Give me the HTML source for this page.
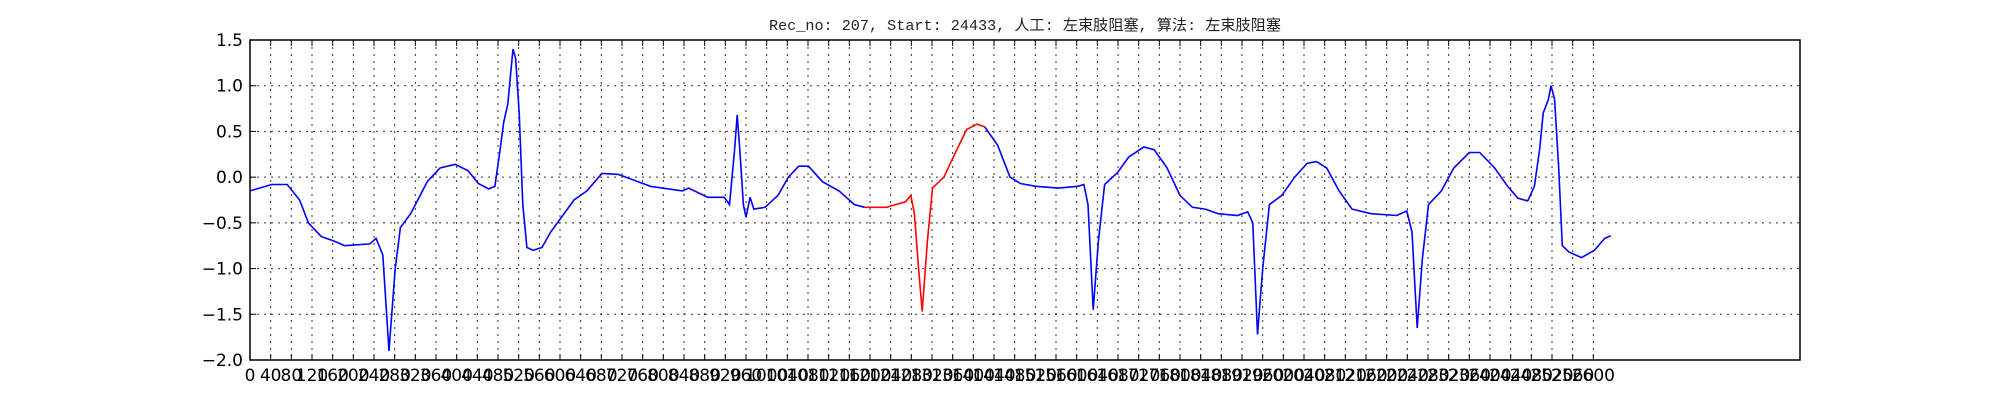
<!DOCTYPE html>
<html><head><meta charset="utf-8"><style>
html,body{margin:0;padding:0;background:#fff;width:2000px;height:400px;overflow:hidden}
svg{display:block}
</style></head><body>
<svg id="chart" width="2000" height="400" xmlns="http://www.w3.org/2000/svg">
<text x="1025" y="30" text-anchor="middle" font-family="Liberation Mono, Noto Sans CJK SC, monospace" font-size="15" fill="#222" textLength="512" lengthAdjust="spacingAndGlyphs">Rec_no: 207, Start: 24433, 人工: 左束肢阻塞, 算法: 左束肢阻塞</text>
<g id="grid"></g>
<g id="series"></g>
<rect x="250" y="40" width="1550" height="320" fill="none" stroke="#000" stroke-width="1.5"/>
<g id="ticks"></g>
</svg>
<script>
const xTicks = [];
for (let v = 0; v <= 2600; v += 40) xTicks.push(v);
const yTicks = [1.5, 1.0, 0.5, 0.0, -0.5, -1.0, -1.5, -2.0];
const yTickLabels = ["1.5","1.0","0.5","0.0","\u22120.5","\u22121.0","\u22121.5","\u22122.0"];
const sampleX = [0,42,72,96,113,138,163,183,232,244,257,269,281,291,311,343,368,397,422,442,462,474,484,491,499,509,514,521,528,536,548,565,582,627,652,681,713,775,837,849,886,918,928,938,943,948,955,960,968,975,997,1022,1042,1062,1081,1108,1140,1170,1190,1232,1269,1279,1286,1294,1301,1311,1321,1343,1368,1387,1407,1422,1447,1471,1491,1521,1565,1602,1614,1622,1632,1642,1654,1679,1701,1730,1750,1775,1800,1824,1849,1874,1911,1931,1941,1950,1960,1973,1997,2022,2046,2064,2084,2108,2133,2170,2219,2239,2249,2259,2269,2281,2306,2330,2360,2380,2409,2434,2454,2473,2486,2496,2503,2513,2518,2525,2533,2540,2553,2577,2602,2622,2634];
const sampleY = [-0.15,-0.08,-0.08,-0.25,-0.5,-0.65,-0.7,-0.75,-0.73,-0.67,-0.85,-1.9,-1.0,-0.55,-0.4,-0.05,0.1,0.14,0.07,-0.07,-0.13,-0.1,0.3,0.6,0.8,1.4,1.3,0.7,-0.3,-0.77,-0.8,-0.77,-0.6,-0.25,-0.15,0.04,0.03,-0.1,-0.15,-0.12,-0.22,-0.22,-0.3,0.3,0.68,0.3,-0.3,-0.44,-0.22,-0.35,-0.33,-0.2,0.0,0.12,0.12,-0.05,-0.15,-0.3,-0.33,-0.33,-0.27,-0.2,-0.4,-1.0,-1.47,-0.7,-0.12,0.0,0.3,0.52,0.58,0.55,0.35,0.0,-0.07,-0.1,-0.12,-0.1,-0.08,-0.3,-1.45,-0.7,-0.08,0.05,0.22,0.33,0.3,0.1,-0.2,-0.33,-0.35,-0.4,-0.42,-0.38,-0.5,-1.72,-1.0,-0.3,-0.2,0.0,0.15,0.17,0.1,-0.15,-0.35,-0.4,-0.42,-0.37,-0.6,-1.65,-0.9,-0.3,-0.15,0.1,0.27,0.27,0.1,-0.1,-0.23,-0.26,-0.1,0.3,0.7,0.85,1.0,0.85,0.1,-0.75,-0.82,-0.88,-0.8,-0.67,-0.64];
const redRange = [1190, 1422];

const NS = "http://www.w3.org/2000/svg";
const X = v => 250 + v * 1550 / 3000;
const Y = v => 40 + (1.5 - v) * 320 / 3.5;
const grid = document.getElementById('grid'), ticks = document.getElementById('ticks'), series = document.getElementById('series');
function mk(tag, attrs, parent){const e=document.createElementNS(NS,tag);for(const k in attrs)e.setAttribute(k,attrs[k]);parent.appendChild(e);return e;}
xTicks.forEach(v=>{
  const x=X(v);
  const g=mk('line',{x1:x,x2:x,y1:40,y2:360,stroke:'#333','stroke-width':1,'stroke-dasharray':'2,5'},grid);
  
  
  const t=mk('line',{x1:x,x2:x,y1:360,y2:354,stroke:'#000','stroke-width':1},ticks);
  
  
  const t2=mk('line',{x1:x,x2:x,y1:40,y2:46,stroke:'#000','stroke-width':1},ticks);
  
  
  const l=mk('text',{x:x,y:381,'text-anchor':'middle','font-family':'DejaVu Sans, sans-serif','font-size':17,fill:'#000'},ticks);
  l.textContent=String(v);
  
  
});
yTicks.forEach((v,i)=>{
  const y=Y(v);
  const g=mk('line',{x1:250,x2:1800,y1:y,y2:y,stroke:'#333','stroke-width':1,'stroke-dasharray':'2,5'},grid);
  
  
  const t=mk('line',{x1:250,x2:256,y1:y,y2:y,stroke:'#000','stroke-width':1},ticks);
  
  
  const l=mk('text',{x:243,y:y+6,'text-anchor':'end','font-family':'DejaVu Sans, sans-serif','font-size':17,fill:'#000'},ticks);
  l.textContent=yTickLabels[i];
  
  
});
function interp(x){for(let i=1;i<sampleX.length;i++){if(x<=sampleX[i]){const a=sampleX[i-1],b=sampleX[i];return sampleY[i-1]+(sampleY[i]-sampleY[i-1])*(x-a)/(b-a);}}return sampleY[sampleY.length-1];}
function path(from,to){let d='';const pts=[from];sampleX.forEach(x=>{if(x>from&&x<to)pts.push(x);});pts.push(to);pts.forEach((x,i)=>{d+=(i?'L':'M')+X(x).toFixed(1)+','+Y(interp(x)).toFixed(1);});return d;}
const last=sampleX[sampleX.length-1];
const p1=mk('path',{d:path(0,redRange[0]),fill:'none',stroke:'#0000ff','stroke-width':1.6},series);


const p2=mk('path',{d:path(redRange[0],redRange[1]),fill:'none',stroke:'#ff0000','stroke-width':1.6},series);


const p3=mk('path',{d:path(redRange[1],last),fill:'none',stroke:'#0000ff','stroke-width':1.6},series);


</script>
</body></html>
